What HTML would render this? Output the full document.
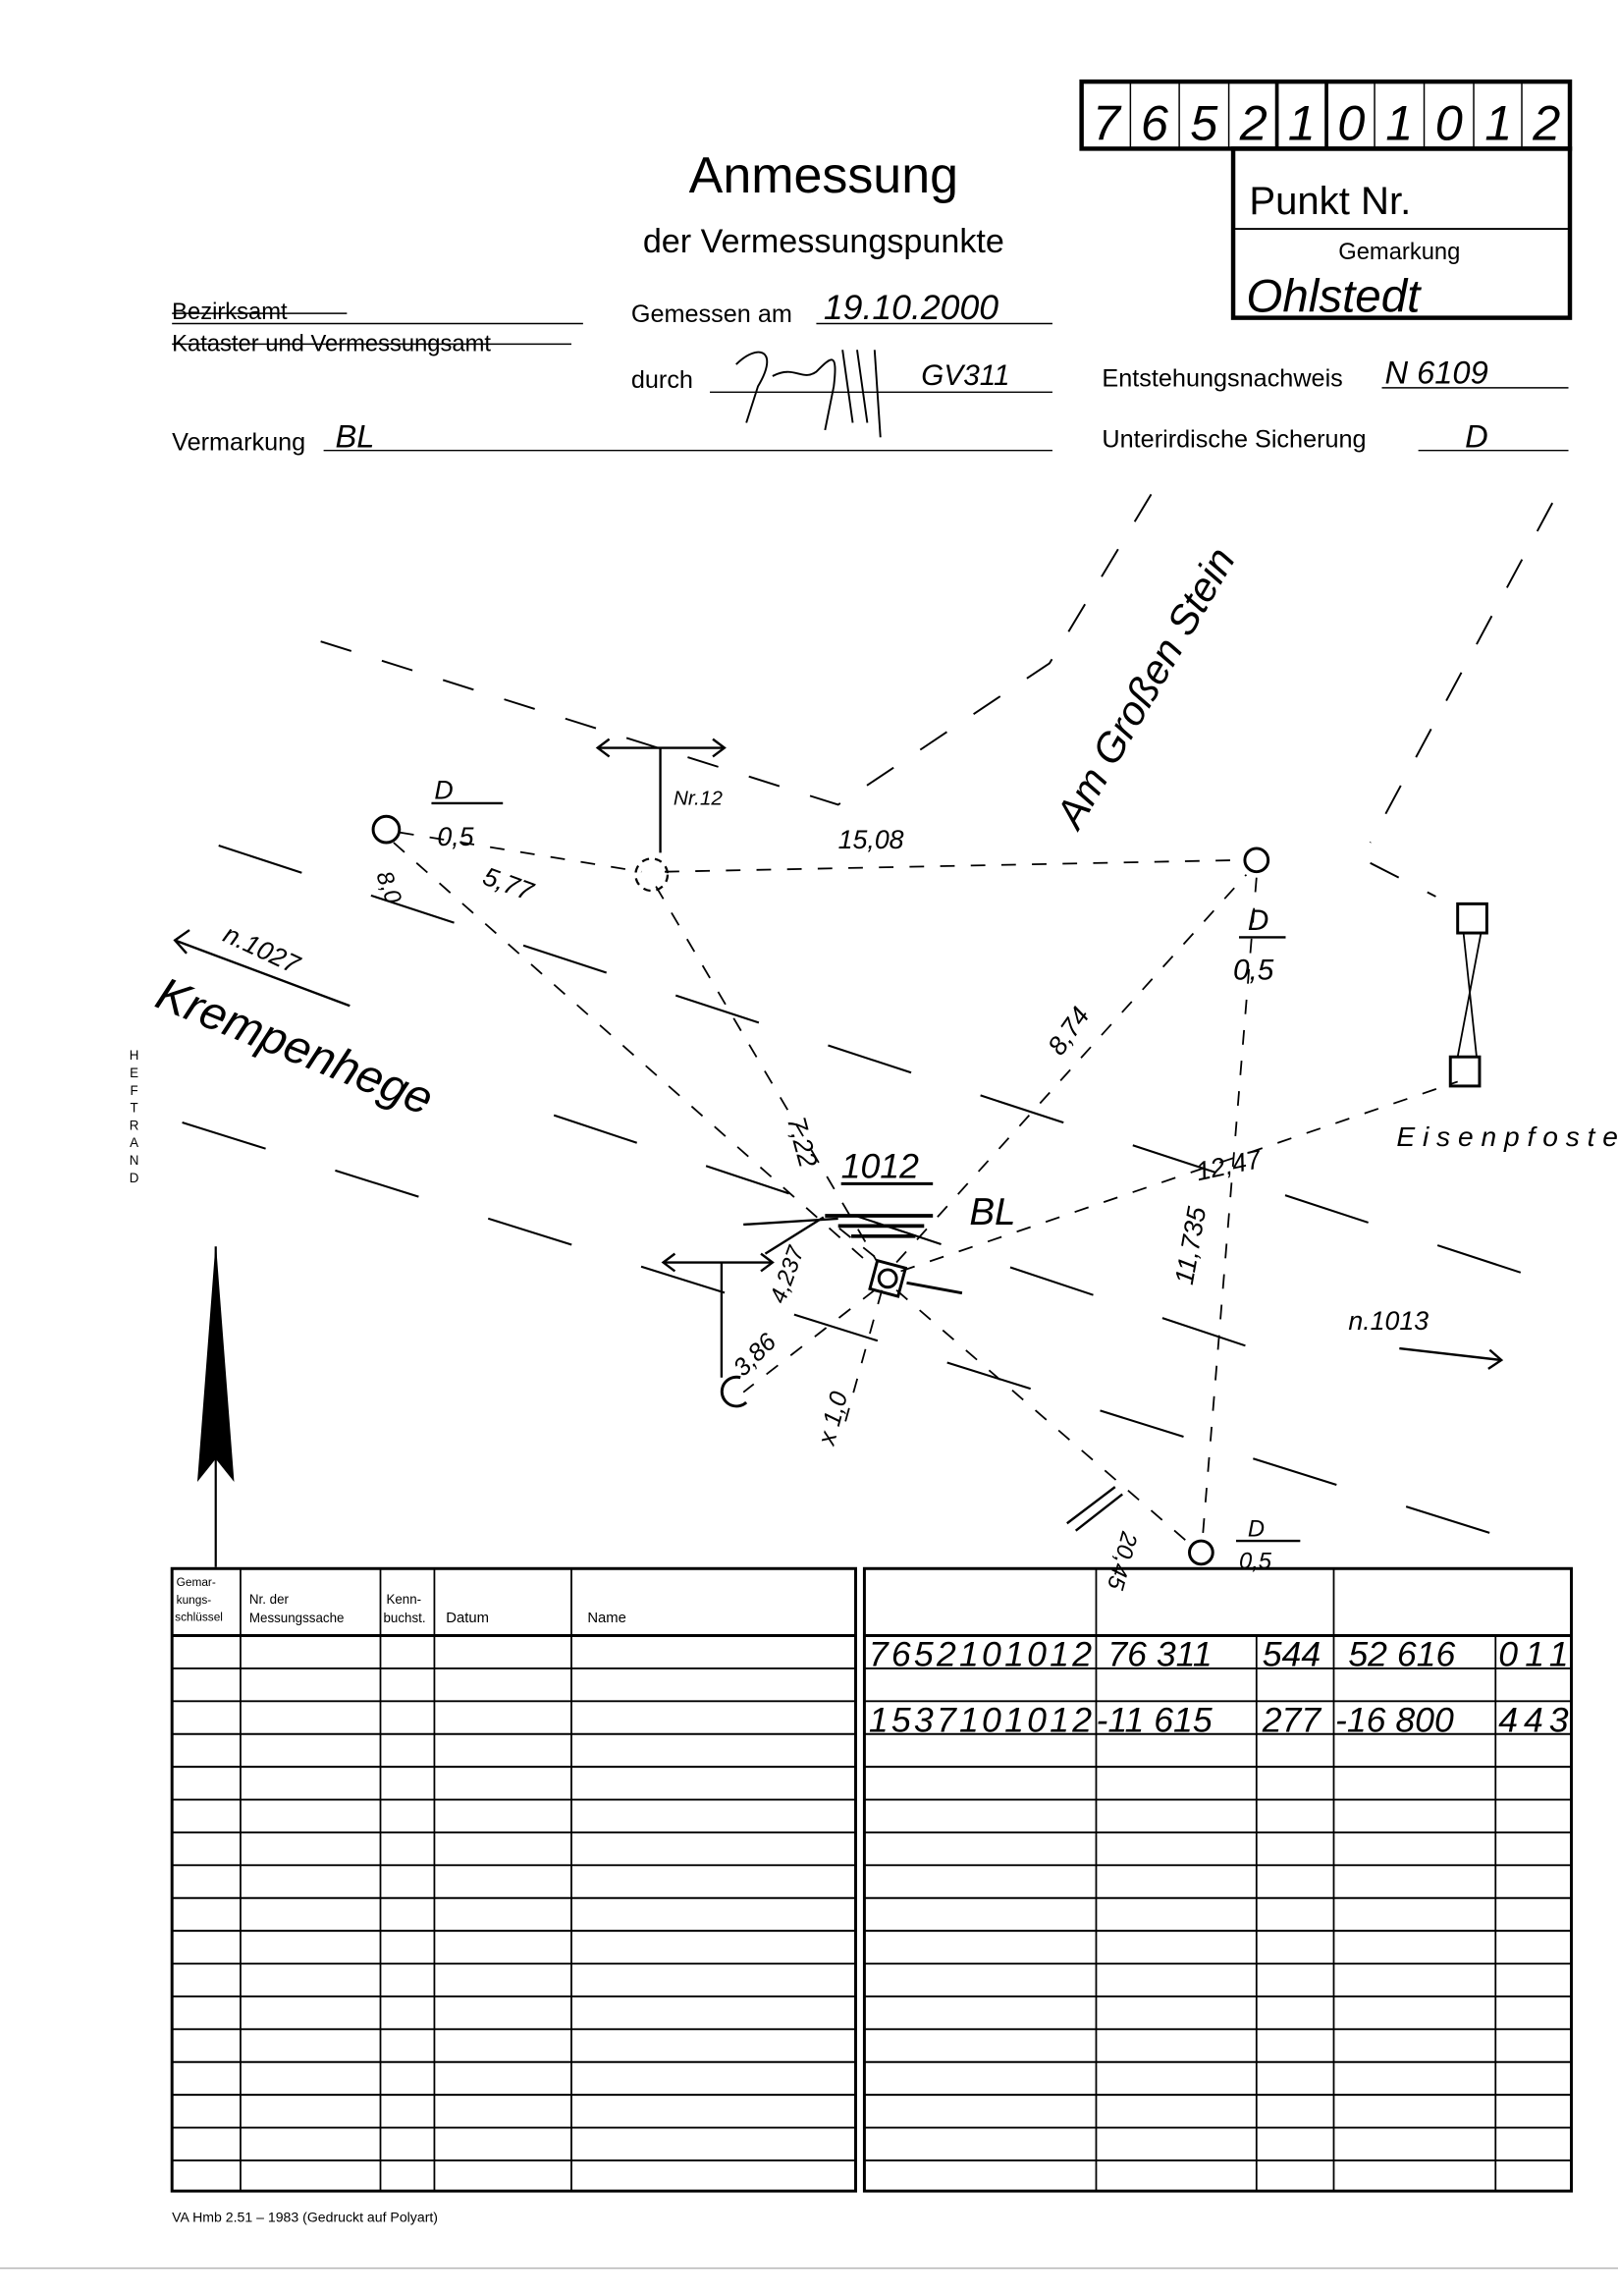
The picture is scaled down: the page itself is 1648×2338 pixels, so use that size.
<!DOCTYPE html>
<html><head><meta charset="utf-8"><style>
html,body{margin:0;padding:0;background:#fff}
svg{display:block}
text{font-family:"Liberation Sans",sans-serif;fill:#000}
.h{font-style:italic}
</style></head><body>
<svg width="1648" height="2338" viewBox="0 0 1110 1575" preserveAspectRatio="none" xmlns="http://www.w3.org/2000/svg">
<rect width="1110" height="1575" fill="#fff"/>
<g stroke="#000" fill="none">
<!-- top number box -->
<rect x="742" y="56" width="335" height="46" stroke-width="3"/>
<g stroke-width="1"><line x1="775.5" y1="56" x2="775.5" y2="102"/><line x1="809" y1="56" x2="809" y2="102"/><line x1="843" y1="56" x2="843" y2="102"/><line x1="943" y1="56" x2="943" y2="102"/><line x1="977" y1="56" x2="977" y2="102"/><line x1="1011" y1="56" x2="1011" y2="102"/><line x1="1044" y1="56" x2="1044" y2="102"/></g>
<g stroke-width="2.5"><line x1="876" y1="56" x2="876" y2="102"/><line x1="910" y1="56" x2="910" y2="102"/></g>
<rect x="846" y="102" width="231" height="116" stroke-width="3"/>
<line x1="846" y1="157" x2="1077" y2="157" stroke-width="1.2"/>
<!-- form lines -->
<g stroke-width="1">
<line x1="118" y1="222" x2="400" y2="222"/><line x1="118" y1="215" x2="238" y2="215"/><line x1="118" y1="236" x2="392" y2="236"/>
<line x1="560" y1="222" x2="722" y2="222"/><line x1="487" y1="269" x2="722" y2="269"/>
<line x1="222" y1="309" x2="722" y2="309"/>
<line x1="948" y1="266" x2="1076" y2="266"/><line x1="973" y1="309" x2="1076" y2="309"/>
</g>
<!-- signature -->
<path d="M505 250 C520 235 535 240 520 265 L512 290 M530 258 C545 250 550 262 560 255 C570 245 575 240 572 265 L566 295 M578 240 L585 290 M588 240 L595 290 M600 240 L604 300" stroke-width="1.3"/>
<!-- dashed streets -->
<g stroke-width="1.3" stroke-dasharray="22,22">
<path d="M220 440 L575 552 L720 455 L800 322"/>
<path d="M1065 345 L940 578"/>
<path d="M940 592 L985 615"/>
</g>
<g stroke-width="1.4" stroke-dasharray="60,50">
<line x1="150" y1="580" x2="1080" y2="885"/>
<line x1="125" y1="770" x2="1065" y2="1065"/>
<line x1="380" y1="765" x2="860" y2="925"/>
</g>
<!-- measurement dashes -->
<g stroke-width="1.2" stroke-dasharray="10,11">
<line x1="274" y1="571" x2="440" y2="598"/>
<line x1="456" y1="598" x2="852" y2="590"/>
<line x1="270" y1="578" x2="600" y2="870"/>
<line x1="450" y1="608" x2="602" y2="866"/>
<line x1="615" y1="866" x2="855" y2="600"/>
<line x1="862" y1="602" x2="825" y2="1055"/>
<line x1="618" y1="872" x2="1000" y2="742"/>
<line x1="615" y1="885" x2="815" y2="1058"/>
<line x1="600" y1="885" x2="510" y2="955"/>
<line x1="605" y1="885" x2="580" y2="975"/>
<line x1="600" y1="862" x2="570" y2="838"/>
</g>
<!-- points -->
<circle cx="265" cy="569" r="9" stroke-width="2"/>
<circle cx="447" cy="600" r="11" stroke-width="1.5" stroke-dasharray="5,4"/>
<circle cx="862" cy="590" r="8" stroke-width="2"/>
<circle cx="824" cy="1065" r="8" stroke-width="2"/>
<path d="M508 945 A10 10 0 1 0 512 962" stroke-width="2"/>
<rect x="599" y="867" width="20" height="20" stroke-width="2" transform="rotate(15 609 877)"/>
<circle cx="609" cy="877" r="6" stroke-width="2"/>
<line x1="622" y1="880" x2="660" y2="887" stroke-width="2"/>
<!-- hatching -->
<g stroke-width="2.5"><line x1="566" y1="834" x2="640" y2="834"/><line x1="575" y1="841" x2="634" y2="841"/><line x1="584" y1="848" x2="628" y2="848"/></g>
<g stroke-width="1.6">
<line x1="410" y1="513" x2="497" y2="513"/><path d="M418 507 L410 513 L418 519 M489 507 L497 513 L489 519"/>
<line x1="453" y1="513" x2="453" y2="585"/>
<line x1="455" y1="866" x2="530" y2="866"/><path d="M463 860 L455 866 L463 872 M522 860 L530 866 L522 872"/>
<line x1="495" y1="866" x2="495" y2="945"/>
<line x1="525" y1="860" x2="565" y2="835"/><line x1="510" y1="840" x2="575" y2="836"/>
<line x1="738" y1="1050" x2="770" y2="1025"/><line x1="732" y1="1045" x2="765" y2="1020"/>
<line x1="120" y1="645" x2="240" y2="690"/><path d="M130 638 L120 645 L128 654"/>
<line x1="960" y1="925" x2="1030" y2="933"/><path d="M1022 926 L1030 933 L1021 939"/>
<line x1="577" y1="812" x2="640" y2="812" stroke-width="2"/>
<line x1="296" y1="551" x2="345" y2="551"/>
<line x1="850" y1="643" x2="882" y2="643"/>
<line x1="848" y1="1057" x2="892" y2="1057"/>
</g>
<!-- Eisenpfosten -->
<rect x="1000" y="620" width="20" height="20" stroke-width="2"/>
<rect x="995" y="725" width="20" height="20" stroke-width="2"/>
<path d="M1004 640 L1013 725 M1016 640 L1000 725" stroke-width="1.2"/>
<!-- north arrow -->
<line x1="148" y1="855" x2="148" y2="1075" stroke-width="1.5"/>
<path d="M148 858 L136 1015 L148 1000 L160 1015 Z" fill="#000" stroke-width="1"/>
<!-- tables -->
<g stroke-width="2">
<rect x="118" y="1076" width="469" height="427"/>
<rect x="593" y="1076" width="485" height="427"/>
<line x1="118" y1="1122" x2="587" y2="1122"/><line x1="593" y1="1122" x2="1078" y2="1122"/>
</g>
<g stroke-width="1.2">
<line x1="165" y1="1076" x2="165" y2="1503"/><line x1="261" y1="1076" x2="261" y2="1503"/><line x1="298" y1="1076" x2="298" y2="1503"/><line x1="392" y1="1076" x2="392" y2="1503"/>
<line x1="752" y1="1076" x2="752" y2="1503"/><line x1="862" y1="1122" x2="862" y2="1503"/><line x1="915" y1="1076" x2="915" y2="1503"/><line x1="1026" y1="1122" x2="1026" y2="1503"/>
</g>
<g stroke-width="1.3">
<path d="M118 1144.5H587M118 1167H587M118 1189.5H587M118 1212H587M118 1234.5H587M118 1257H587M118 1279.5H587M118 1302H587M118 1324.5H587M118 1347H587M118 1369.5H587M118 1392H587M118 1414.5H587M118 1437H587M118 1459.5H587M118 1482H587"/>
<path d="M593 1144.5H1078M593 1167H1078M593 1189.5H1078M593 1212H1078M593 1234.5H1078M593 1257H1078M593 1279.5H1078M593 1302H1078M593 1324.5H1078M593 1347H1078M593 1369.5H1078M593 1392H1078M593 1414.5H1078M593 1437H1078M593 1459.5H1078M593 1482H1078"/>
</g>
<line x1="0" y1="1556" x2="1110" y2="1556" stroke-width="0.6" stroke="#888"/>
</g>
<!-- printed texts -->
<text x="565" y="132" font-size="35" text-anchor="middle">Anmessung</text>
<text x="565" y="173" font-size="23" text-anchor="middle">der Vermessungspunkte</text>
<text x="857" y="147" font-size="27">Punkt Nr.</text>
<text x="960" y="178" font-size="16" text-anchor="middle">Gemarkung</text>
<text x="118" y="219" font-size="16">Bezirksamt</text>
<text x="118" y="241" font-size="16">Kataster und Vermessungsamt</text>
<text x="433" y="221" font-size="17">Gemessen am</text>
<text x="433" y="266" font-size="17">durch</text>
<text x="118" y="309" font-size="17">Vermarkung</text>
<text x="756" y="265" font-size="17">Entstehungsnachweis</text>
<text x="756" y="307" font-size="17">Unterirdische Sicherung</text>
<g font-size="10">
<text x="121" y="1088" font-size="8">Gemar-</text><text x="121" y="1100" font-size="8">kungs-</text><text x="120" y="1112" font-size="8">schlüssel</text>
<text x="171" y="1100" font-size="9">Nr. der</text><text x="171" y="1113" font-size="9">Messungssache</text>
<text x="265" y="1100" font-size="9">Kenn-</text><text x="263" y="1113" font-size="9">buchst.</text>
<text x="306" y="1113" font-size="10">Datum</text><text x="403" y="1113" font-size="10">Name</text>
</g>
<text x="118" y="1524" font-size="9.5">VA Hmb 2.51 – 1983 (Gedruckt auf Polyart)</text>
<g font-size="9" text-anchor="middle"><text x="92" y="727">H</text><text x="92" y="739">E</text><text x="92" y="751">F</text><text x="92" y="763">T</text><text x="92" y="775">R</text><text x="92" y="787">A</text><text x="92" y="799">N</text><text x="92" y="811">D</text></g>
<!-- handwritten -->
<g class="h">
<g font-size="34" text-anchor="middle">
<text x="759" y="96">7</text><text x="792" y="96">6</text><text x="826" y="96">5</text><text x="860" y="96">2</text><text x="893" y="96">1</text><text x="927" y="96">0</text><text x="960" y="96">1</text><text x="994" y="96">0</text><text x="1028" y="96">1</text><text x="1061" y="96">2</text>
</g>
<text x="855" y="214" font-size="32">Ohlstedt</text>
<text x="565" y="219" font-size="24">19.10.2000</text>
<text x="632" y="264" font-size="20">GV311</text>
<text x="950" y="263" font-size="22">N 6109</text>
<text x="1005" y="307" font-size="22">D</text>
<text x="230" y="307" font-size="22">BL</text>
<text x="298" y="548" font-size="18">D</text>
<text x="300" y="580" font-size="18">0,5</text>
<text x="462" y="552" font-size="14">Nr.12</text>
<text x="575" y="582" font-size="18">15,08</text>
<text x="330" y="606" font-size="18" transform="rotate(20 330 606)">5,77</text>
<text x="258" y="600" font-size="16" transform="rotate(70 258 600)">8,0</text>
<text x="856" y="638" font-size="20">D</text>
<text x="846" y="672" font-size="20">0,5</text>
<text x="728" y="725" font-size="18" transform="rotate(-55 728 725)">8,74</text>
<text x="540" y="768" font-size="18" transform="rotate(75 540 768)">7,22</text>
<text x="577" y="808" font-size="24">1012</text>
<text x="665" y="840" font-size="26">BL</text>
<text x="822" y="810" font-size="18" transform="rotate(-12 822 810)">12,47</text>
<text x="818" y="882" font-size="18" transform="rotate(-80 818 882)">11,735</text>
<text x="958" y="786" font-size="19" textLength="152">Eisenpfoste</text>
<text x="925" y="912" font-size="18">n.1013</text>
<text x="538" y="895" font-size="16" transform="rotate(-70 538 895)">4,237</text>
<text x="510" y="945" font-size="17" transform="rotate(-45 510 945)">3,86</text>
<text x="572" y="992" font-size="17" transform="rotate(-75 572 992)">x 1,0</text>
<text x="770" y="1050" font-size="16" transform="rotate(105 770 1050)">20,45</text>
<text x="856" y="1054" font-size="16">D</text>
<text x="850" y="1076" font-size="16">0,5</text>
<text x="152" y="645" font-size="18" transform="rotate(25 152 645)">n.1027</text>
<text x="105" y="690" font-size="32" transform="rotate(22 105 690)">Krempenhege</text>
<text x="740" y="570" font-size="28" transform="rotate(-60 740 570)">Am Großen Stein</text>
<g font-size="24">
<text x="596" y="1143" textLength="153">7652101012</text>
<text x="760" y="1143">76 311</text>
<text x="866" y="1143">544</text>
<text x="925" y="1143">52 616</text>
<text x="1028" y="1143" textLength="48">011</text>
<text x="596" y="1188" textLength="153">1537101012</text>
<text x="752" y="1188">-11 615</text>
<text x="866" y="1188">277</text>
<text x="916" y="1188">-16 800</text>
<text x="1028" y="1188" textLength="48">443</text>
</g>
</g>
</svg>
</body></html>
